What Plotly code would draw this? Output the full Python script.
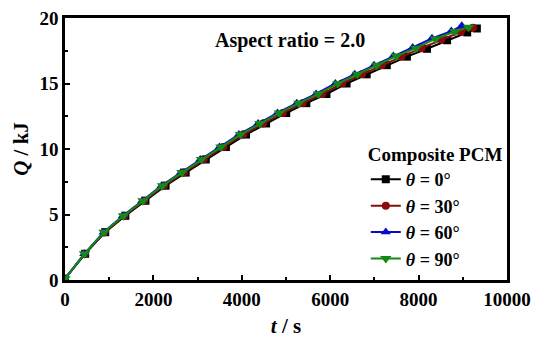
import plotly.graph_objects as go

# ---- data ----
t_0 = [0, 455, 910, 1365, 1820, 2275, 2730, 3185, 3640, 4095, 4550, 5005, 5460,
       5915, 6370, 6825, 7280, 7735, 8190, 8645, 9100, 9318]
q_0 = [0.1, 2.0, 3.65, 4.9, 6.05, 7.2, 8.2, 9.2, 10.15, 11.1, 11.95, 12.75, 13.5,
       14.2, 15.0, 15.7, 16.4, 17.05, 17.65, 18.3, 18.9, 19.2]

t_30 = [0, 448, 896, 1344, 1792, 2240, 2688, 3136, 3584, 4032, 4480, 4928, 5376,
        5824, 6272, 6720, 7168, 7616, 8064, 8512, 8960, 9230]
q_30 = [0.1, 2.0, 3.65, 4.9, 6.05, 7.2, 8.2, 9.2, 10.15, 11.1, 11.95, 12.75, 13.5,
        14.2, 15.0, 15.7, 16.4, 17.05, 17.7, 18.35, 18.95, 19.25]

t_60 = [0, 437, 874, 1311, 1748, 2185, 2622, 3059, 3496, 3933, 4370, 4807, 5244,
        5681, 6118, 6555, 6992, 7429, 7866, 8303, 8740, 8977]
q_60 = [0.1, 2.0, 3.65, 4.9, 6.05, 7.2, 8.2, 9.2, 10.15, 11.1, 11.95, 12.75, 13.5,
        14.2, 15.0, 15.7, 16.4, 17.1, 17.75, 18.45, 19.0, 19.4]

t_90 = [0, 441, 882, 1323, 1764, 2205, 2646, 3087, 3528, 3969, 4410, 4851, 5292,
        5733, 6174, 6615, 7056, 7497, 7938, 8379, 8820, 9129]
q_90 = [0.1, 2.0, 3.65, 4.9, 6.05, 7.2, 8.2, 9.2, 10.15, 11.1, 11.95, 12.75, 13.5,
        14.2, 15.0, 15.7, 16.4, 17.1, 17.7, 18.4, 18.97, 19.3]

series_names = ["<b><i>θ</i> = 0°</b>", "<b><i>θ</i> = 30°</b>",
                "<b><i>θ</i> = 60°</b>", "<b><i>θ</i> = 90°</b>"]
x_ticks = [0, 2000, 4000, 6000, 8000, 10000]
y_ticks = [0, 5, 10, 15, 20]

FONT = "Liberation Serif"

styles = [
    dict(color="#000000", symbol="square", size=8),
    dict(color="#8b0a0a", symbol="circle", size=8),
    dict(color="#0a0ac8", symbol="triangle-up", size=9),
    dict(color="#138a13", symbol="triangle-down", size=10),
]
data = [(t_0, q_0), (t_30, q_30), (t_60, q_60), (t_90, q_90)]

fig = go.Figure()
for (tx, qy), name, st in zip(data, series_names, styles):
    fig.add_trace(go.Scatter(
        x=tx, y=qy, mode="lines+markers", name=name,
        line=dict(color=st["color"], width=2),
        marker=dict(color=st["color"], symbol=st["symbol"], size=st["size"],
                    line=dict(width=0)),
    ))

axis_common = dict(
    showline=True, linecolor="black", linewidth=2.5, mirror=True,
    ticks="inside", ticklen=5, tickwidth=2, tickcolor="black",
    showgrid=False, zeroline=False, automargin=False,
    tickfont=dict(family=FONT, size=19, color="black", weight="bold"),
)

fig.update_xaxes(
    range=[0, 10000], tickvals=x_ticks, ticktext=[str(v) for v in x_ticks],
    minor=dict(ticks="inside", ticklen=3, tickwidth=2, dtick=1000, tick0=0, tickcolor="black"),
    title=dict(text="<b><i>t</i> / s</b>", font=dict(family=FONT, size=21, color="black"),
               standoff=10),
    **axis_common,
)
fig.update_yaxes(
    range=[0, 20], tickvals=y_ticks, ticktext=[str(v) for v in y_ticks],
    minor=dict(ticks="inside", ticklen=3, tickwidth=2, dtick=2.5, tick0=0, tickcolor="black"),
    title=dict(text="<b><i>Q</i> / kJ</b>", font=dict(family=FONT, size=21, color="black"),
               standoff=6),
    **axis_common,
)

fig.add_annotation(
    text="<b>Aspect ratio = 2.0</b>", xref="paper", yref="paper",
    x=0.51, y=0.915, xanchor="center", yanchor="middle", showarrow=False,
    font=dict(family=FONT, size=20, color="black"),
)

fig.update_layout(
    width=535, height=340,
    margin=dict(l=65, r=28, t=18, b=60),
    paper_bgcolor="white", plot_bgcolor="white",
    showlegend=True,
    legend=dict(
        x=0.995, y=0.01, xanchor="right", yanchor="bottom",
        bgcolor="rgba(0,0,0,0)",
        font=dict(family=FONT, size=18, color="black"),
        title=dict(text="<b>Composite PCM</b>", side="top",
                   font=dict(family=FONT, size=19, color="black")),
        itemwidth=30, tracegroupgap=0,
    ),
)

fig.write_html("out.html")
